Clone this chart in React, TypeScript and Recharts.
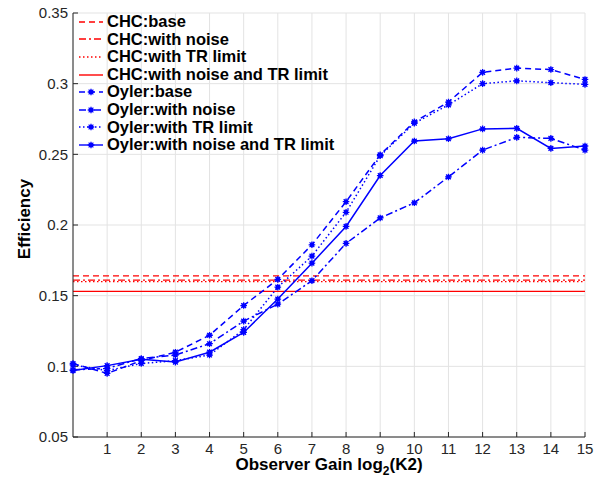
import { LineChart, Line, XAxis, YAxis, CartesianGrid, ReferenceLine, Label } from 'recharts'

const gains = [0, 1, 2, 3, 4, 5, 6, 7, 8, 9, 10, 11, 12, 13, 14, 15]
const oylerBase = [0.102, 0.095, 0.104, 0.110, 0.122, 0.143, 0.1615, 0.186, 0.2165, 0.2497, 0.273, 0.287, 0.308, 0.311, 0.310, 0.303]
const oylerNoise = [0.0975, 0.0985, 0.1055, 0.108, 0.116, 0.132, 0.144, 0.1606, 0.187, 0.205, 0.2157, 0.234, 0.253, 0.262, 0.2613, 0.253]
const oylerTR = [0.101, 0.097, 0.102, 0.104, 0.108, 0.126, 0.156, 0.178, 0.209, 0.249, 0.272, 0.285, 0.300, 0.302, 0.3007, 0.2995]
const oylerNoiseTR = [0.097, 0.1005, 0.105, 0.103, 0.110, 0.124, 0.1476, 0.173, 0.199, 0.235, 0.2594, 0.261, 0.268, 0.2684, 0.2542, 0.2559]
const chcLevels = [0.164, 0.161, 0.160, 0.153]

const chcNames = ['CHC:base', 'CHC:with noise', 'CHC:with TR limit', 'CHC:with noise and TR limit']
const oylerNames = ['Oyler:base', 'Oyler:with noise', 'Oyler:with TR limit', 'Oyler:with noise and TR limit']
const xTicks = [1, 2, 3, 4, 5, 6, 7, 8, 9, 10, 11, 12, 13, 14, 15]
const yTicks = [0.05, 0.1, 0.15, 0.2, 0.25, 0.3, 0.35]

const DASHES = ['6 4', '7 3 2 3', '1.5 2.5', undefined]
const RED = '#ff0000'
const BLUE = '#0000ff'
const AXIS = '#262626'
const FONT = '"Liberation Sans", Arial, Helvetica, sans-serif'

const keys = ['base', 'noise', 'tr', 'noiseTr']
const oylerSeries = [oylerBase, oylerNoise, oylerTR, oylerNoiseTR]

const data = gains.map((g, i) => {
  const row: Record<string, number> = { gain: g }
  keys.forEach((k, j) => { row[k] = oylerSeries[j][i] })
  return row
})

// asterisk marker, the way matlab's '*' looks at this size
const Star = (props: any) => {
  const { cx, cy, index } = props
  if (cx == null || cy == null) return null
  const r = 3.3
  const d = r * 0.72
  return (
    <g key={`s-${index}`}>
      <circle cx={cx} cy={cy} r={2.2} fill={BLUE} />
      <path
        d={`M${cx - r},${cy}h${2 * r}M${cx},${cy - r}v${2 * r}M${cx - d},${cy - d}l${2 * d},${2 * d}M${cx - d},${cy + d}l${2 * d},${-2 * d}`}
        stroke={BLUE}
        strokeWidth={1.3}
      />
    </g>
  )
}

function LegendBox() {
  const rows = [
    ...chcNames.map((n, i) => ({ name: n, color: RED, dash: DASHES[i], marker: false })),
    ...oylerNames.map((n, i) => ({ name: n, color: BLUE, dash: DASHES[i], marker: true })),
  ]
  return (
    <div style={{ position: 'absolute', left: 69, top: 5, fontFamily: FONT, fontWeight: 'bold', fontSize: 16.5, color: '#000', lineHeight: '17.6px' }}>
      {rows.map((r) => (
        <div key={r.name} style={{ display: 'flex', alignItems: 'center', height: 17.6, whiteSpace: 'nowrap' }}>
          <svg width={30} height={12}>
            <line x1={2} y1={6} x2={26} y2={6} stroke={r.color} strokeWidth={1.4} strokeDasharray={r.dash} />
            {r.marker && <Star cx={14} cy={6} index={0} />}
          </svg>
          <span>{r.name}</span>
        </div>
      ))}
    </div>
  )
}

const tickFont = { fill: AXIS, fontSize: 15, fontFamily: FONT }

export default function App() {
  return (
    <div style={{ position: 'relative', width: 603, height: 477 }}>
      <LineChart width={603} height={477} data={data} margin={{ top: 5, right: 26, left: 0, bottom: 0 }}>
        <CartesianGrid stroke="#e3e3e3" strokeWidth={1} />
        <XAxis
          dataKey="gain"
          type="number"
          domain={[0, 15]}
          ticks={xTicks}
          interval={0}
          height={48}
          tickSize={-5}
          tickMargin={11}
          tickLine={{ stroke: AXIS }}
          axisLine={{ stroke: AXIS }}
          tick={tickFont}
        >
          <Label
            content={({ viewBox }: any) => (
              <text
                x={viewBox.x + viewBox.width / 2}
                y={viewBox.y + 33}
                textAnchor="middle"
                fontFamily={FONT}
                fontWeight="bold"
                fontSize={17}
                fill="#000"
              >
                Observer Gain log<tspan dy={5} fontSize={12}>2</tspan><tspan dy={-5}>(K2)</tspan>
              </text>
            )}
          />
        </XAxis>
        <XAxis xAxisId="top" orientation="top" type="number" domain={[0, 15]} ticks={xTicks} interval={0} height={0} tick={false} tickSize={-5} tickLine={{ stroke: AXIS }} axisLine={{ stroke: AXIS }} />
        <YAxis
          type="number"
          domain={[0.05, 0.35]}
          ticks={yTicks}
          interval={0}
          width={65}
          tickSize={-5}
          tickMargin={10}
          tickLine={{ stroke: AXIS }}
          axisLine={{ stroke: AXIS }}
          tick={tickFont}
          tickFormatter={(v: number) => String(v)}
        >
          <Label
            content={({ viewBox }: any) => {
              const x = 16
              const y = viewBox.y + viewBox.height / 2 - 6
              return (
                <text x={x} y={y} transform={`rotate(-90 ${x} ${y})`} textAnchor="middle" dominantBaseline="central" fontFamily={FONT} fontWeight="bold" fontSize={17} fill="#000">
                  Efficiency
                </text>
              )
            }}
          />
        </YAxis>
        <YAxis yAxisId="right" orientation="right" width={0} type="number" domain={[0.05, 0.35]} ticks={yTicks} interval={0} tick={false} tickSize={-5} tickLine={{ stroke: AXIS }} axisLine={{ stroke: AXIS }} />
        {chcLevels.map((v, i) => (
          <ReferenceLine key={chcNames[i]} y={v} stroke={RED} strokeWidth={1.3} strokeDasharray={DASHES[i]} ifOverflow="hidden" />
        ))}
        {keys.map((k, i) => (
          <Line
            key={k}
            dataKey={k}
            name={oylerNames[i]}
            type="linear"
            stroke={BLUE}
            strokeWidth={1.5}
            strokeDasharray={DASHES[i]}
            dot={Star}
            activeDot={false}
            isAnimationActive={false}
          />
        ))}
      </LineChart>
      <LegendBox />
    </div>
  )
}
